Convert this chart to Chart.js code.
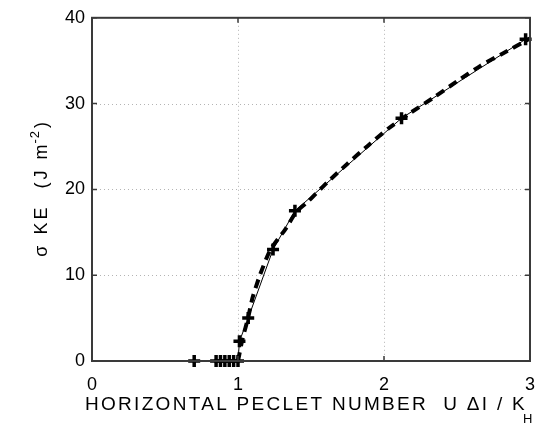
<!DOCTYPE html>
<html>
<head>
<meta charset="utf-8">
<script src="https://cdn.jsdelivr.net/npm/chart.js@4"></script>
<style>
  html, body { margin: 0; padding: 0; background: #fff; }
</style>
</head>
<body>
<canvas id="c" width="548" height="424"></canvas>
<script>
// Tick positions on both axes
const xTicks = [0, 1, 2, 3];
const yTicks = [0, 10, 20, 30, 40];

// Simulated runs: horizontal Peclet number vs sigma KE (marked, thin solid line)
const pecletRuns = [0.70, 0.85, 0.88, 0.91, 0.94, 0.97, 1.00, 1.01, 1.07, 1.24, 1.39, 2.12, 2.97];
const keRuns     = [0,    0,    0,    0,    0,    0,    0,    2.3,  5.0,  13.0, 17.5, 28.3, 37.5];

// Reference curve (thick dashed line)
const pecletCurve = [1.00, 1.03, 1.07, 1.10, 1.15, 1.22, 1.33, 1.40, 1.48, 1.61, 1.75, 1.89, 2.03, 2.17, 2.34, 2.50, 2.66, 2.82, 3.00];
const keCurve     = [0,    2.5,  5.1,  7.4,  10.0, 12.9, 15.5, 17.4, 18.6, 20.8, 23.0, 25.1, 27.1, 28.8, 30.7, 32.6, 34.4, 35.9, 37.6];

const FONT = '"Liberation Sans", Arial, Helvetica, sans-serif';

const toPoints = (xs, ys) => xs.map((x, i) => ({ x, y: ys[i] }));

// Box axes with dotted grid and inward tick marks, plus axis titles
const boxAxes = {
  id: 'boxAxes',
  beforeDatasetsDraw(chart) {
    const { ctx, chartArea: a, scales: { x, y } } = chart;
    ctx.save();
    ctx.strokeStyle = '#b4b4b4';
    ctx.lineWidth = 1;
    ctx.setLineDash([1, 3]);
    xTicks.slice(1, -1).forEach(v => {
      const px = Math.round(x.getPixelForValue(v)) + 0.5;
      ctx.beginPath(); ctx.moveTo(px, a.top); ctx.lineTo(px, a.bottom); ctx.stroke();
    });
    yTicks.slice(1, -1).forEach(v => {
      const py = Math.round(y.getPixelForValue(v)) + 0.5;
      ctx.beginPath(); ctx.moveTo(a.left, py); ctx.lineTo(a.right, py); ctx.stroke();
    });
    ctx.restore();
  },
  afterDatasetsDraw(chart) {
    const { ctx, chartArea: a, scales: { x, y } } = chart;
    ctx.save();
    ctx.strokeStyle = '#3a3a3a';
    ctx.lineWidth = 2;
    ctx.setLineDash([]);
    ctx.strokeRect(a.left, a.top, a.right - a.left, a.bottom - a.top);
    const t = 5;
    ctx.lineWidth = 1.5;
    xTicks.forEach(v => {
      const px = x.getPixelForValue(v);
      ctx.beginPath();
      ctx.moveTo(px, a.bottom); ctx.lineTo(px, a.bottom - t);
      ctx.moveTo(px, a.top); ctx.lineTo(px, a.top + t);
      ctx.stroke();
    });
    yTicks.forEach(v => {
      const py = y.getPixelForValue(v);
      ctx.beginPath();
      ctx.moveTo(a.left, py); ctx.lineTo(a.left + t, py);
      ctx.moveTo(a.right, py); ctx.lineTo(a.right - t, py);
      ctx.stroke();
    });

    // x-axis title with subscript H
    ctx.fillStyle = '#000';
    ctx.textAlign = 'left';
    ctx.textBaseline = 'alphabetic';
    ctx.font = '19px ' + FONT;
    ctx.letterSpacing = '2.3px';
    const xMain = 'HORIZONTAL PECLET NUMBER  U \u0394I / K';
    const xStart = 85;
    ctx.fillText(xMain, xStart, 410);
    const wMain = ctx.measureText(xMain).width;
    ctx.font = '13px ' + FONT;
    ctx.letterSpacing = '0px';
    ctx.fillText('H', xStart + wMain - 4, 423);

    // y-axis title, rotated, with superscript -2
    const cy = (a.top + a.bottom) / 2;
    ctx.translate(47, cy);
    ctx.rotate(-Math.PI / 2);
    ctx.font = '18px ' + FONT;
    ctx.letterSpacing = '3px';
    const p1 = '\u03C3 KE  (J m';
    const w1 = ctx.measureText(p1).width;
    ctx.font = '13px ' + FONT;
    ctx.letterSpacing = '1px';
    const p2 = '-2';
    const w2 = ctx.measureText(p2).width;
    ctx.font = '18px ' + FONT;
    ctx.letterSpacing = '0px';
    const p3 = ')';
    const w3 = ctx.measureText(p3).width;
    let sx = -(w1 + w2 + w3) / 2;
    ctx.letterSpacing = '3px';
    ctx.fillText(p1, sx, 0);
    sx += w1;
    ctx.font = '13px ' + FONT;
    ctx.letterSpacing = '1px';
    ctx.fillText(p2, sx - 2, -8);
    sx += w2;
    ctx.font = '18px ' + FONT;
    ctx.letterSpacing = '0px';
    ctx.fillText(p3, sx, 0);
    ctx.restore();
  }
};

new Chart(document.getElementById('c'), {
  type: 'line',
  data: {
    datasets: [
      {
        data: toPoints(pecletRuns, keRuns),
        borderColor: '#000',
        borderWidth: 1,
        pointStyle: 'cross',
        pointRadius: 6,
        pointBorderWidth: 3.5,
        pointBorderColor: '#000',
        pointBackgroundColor: '#000',
        tension: 0,
        clip: false
      },
      {
        data: toPoints(pecletCurve, keCurve),
        borderColor: '#000',
        borderWidth: 4,
        borderDash: [9, 6],
        pointRadius: 0,
        tension: 0.2,
        clip: false
      }
    ]
  },
  options: {
    responsive: false,
    animation: false,
    devicePixelRatio: 1,
    layout: { padding: { top: 17, right: 18, left: 0, bottom: 0 } },
    plugins: { legend: { display: false }, tooltip: { enabled: false } },
    scales: {
      x: {
        type: 'linear',
        min: xTicks[0],
        max: xTicks[xTicks.length - 1],
        grid: { display: false, drawTicks: false },
        border: { display: false },
        afterBuildTicks: s => { s.ticks = xTicks.map(v => ({ value: v })); },
        afterFit: s => { s.height = 63; },
        ticks: {
          maxRotation: 0,
          autoSkip: false,
          padding: 13,
          color: '#000',
          font: { family: FONT, size: 18 }
        }
      },
      y: {
        type: 'linear',
        min: yTicks[0],
        max: yTicks[yTicks.length - 1],
        grid: { display: false, drawTicks: false },
        border: { display: false },
        afterBuildTicks: s => { s.ticks = yTicks.map(v => ({ value: v })); },
        afterFit: s => { s.width = 92; },
        ticks: {
          padding: 7,
          color: '#000',
          font: { family: FONT, size: 18 }
        }
      }
    }
  },
  plugins: [boxAxes]
});
</script>
</body>
</html>
